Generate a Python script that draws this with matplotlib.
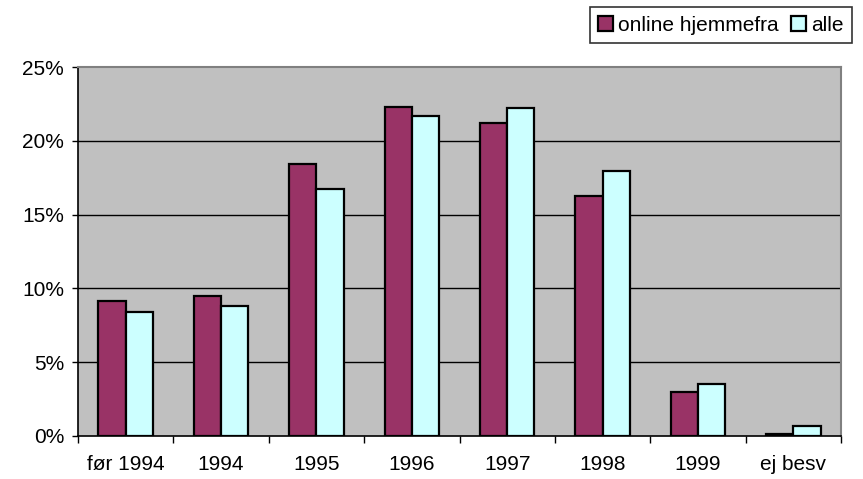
import numpy as np
import matplotlib.pyplot as plt
from matplotlib.patches import Patch

categories = ["før 1994", "1994", "1995", "1996", "1997", "1998", "1999", "ej besv"]
online_hjemmefra = [9.15, 9.5, 18.4, 22.3, 21.2, 16.25, 2.98, 0.12]
alle = [8.4, 8.8, 16.75, 21.65, 22.25, 17.95, 3.5, 0.65]

plt.rcParams['font.family'] = ['Liberation Sans', 'DejaVu Sans']
plt.rcParams['font.size'] = 15

fig = plt.figure(figsize=(8.63, 4.79), dpi=100)
ax = fig.add_axes([0.0904, 0.0898, 0.8841, 0.7703])
ax.set_facecolor('#C0C0C0')

x = np.arange(len(categories))
w = 1 / 3.5
ax.bar(x - w / 2, online_hjemmefra, w, color='#993366', edgecolor='black', linewidth=1.6, zorder=3)
ax.bar(x + w / 2, alle, w, color='#CCFFFF', edgecolor='black', linewidth=1.6, zorder=3)

ax.set_xlim(-0.5, len(categories) - 0.5)
ax.set_ylim(0, 25)
ax.set_yticks(range(0, 26, 5))
ax.set_yticklabels([f"{v}%" for v in range(0, 26, 5)])
for v in range(5, 25, 5):
    ax.axhline(v, color='black', linewidth=1, zorder=1)

# tick marks between categories, labels at centres
ax.set_xticks(np.arange(-0.5, len(categories) - 0.4, 1))
ax.set_xticklabels([])
ax.set_xticks(x, minor=True)
ax.set_xticklabels(categories, minor=True)
ax.tick_params(axis='x', which='major', direction='out', length=5, width=1)
ax.tick_params(axis='x', which='minor', length=0, pad=14)
ax.tick_params(axis='y', direction='out', length=4, width=1, pad=6)

for s in ['top', 'right']:
    ax.spines[s].set_color('#808080')
    ax.spines[s].set_linewidth(1.5)
for s in ['left', 'bottom']:
    ax.spines[s].set_color('black')
    ax.spines[s].set_linewidth(1.2)

handles = [Patch(facecolor='#993366', edgecolor='black', linewidth=1.6),
           Patch(facecolor='#CCFFFF', edgecolor='black', linewidth=1.6)]
leg = fig.legend(handles, ["online hjemmefra", "alle"], loc='upper right',
                 bbox_to_anchor=(0.987, 0.985), ncol=2, frameon=True, fancybox=False,
                 handlelength=0.7, handleheight=0.7, handletextpad=0.25, columnspacing=0.6,
                 borderpad=0.4, borderaxespad=0, fontsize=15)
leg.get_frame().set_edgecolor('black')
leg.get_frame().set_linewidth(1.2)

fig.savefig("out.png", dpi=100)
